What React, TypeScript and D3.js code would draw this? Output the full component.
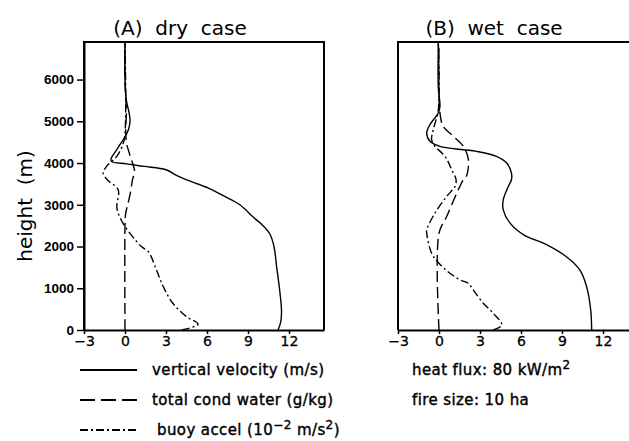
import React, { useEffect, useRef } from 'react';
import * as d3 from 'd3';

// [height (m), value]
const dryVelocity = [
  [0, 11.2], [200, 11.4], [480, 11.45], [1000, 11.3], [1500, 11.1], [2000, 10.9],
  [2300, 10.6], [2500, 10.1], [2700, 9.4], [3000, 8.4], [3200, 7.3], [3400, 6.1],
  [3550, 4.9], [3700, 3.8], [3840, 3.0], [3920, 1.4], [3980, 0.1], [4040, -1.0],
  [4120, -1.0], [4250, -0.75], [4400, -0.45], [4600, -0.05], [4800, 0.25],
  [5000, 0.37], [5200, 0.3], [5500, 0.1], [6000, 0.0], [6900, 0.0]
];
const dryWater = [
  [0, 0], [2500, 0], [2800, 0.05], [3000, 0.2], [3300, 0.4], [3600, 0.55],
  [3800, 0.7], [4000, 0.55], [4200, 0.35], [4500, 0.1], [4800, 0.05], [5200, 0.1],
  [5600, 0.05], [6000, 0], [6900, 0]
];
const dryBuoy = [
  [0, 4.15], [140, 5.35], [320, 4.5], [640, 3.5], [1040, 2.8], [1440, 2.3],
  [1880, 1.7], [2000, 1.2], [2480, 0], [2800, -0.5], [2960, -0.6], [3360, -0.5],
  [3600, -1.3], [3760, -1.6], [3920, -1.35], [4160, -0.6], [4480, -0.12],
  [4720, 0], [5500, 0.05], [6900, 0]
];
const wetVelocity = [
  [0, 11.17], [480, 11.1], [1040, 10.8], [1440, 10.3], [1760, 9.3], [2040, 7.9],
  [2280, 6.2], [2560, 5.2], [2880, 4.7], [3120, 4.7], [3440, 5.07], [3600, 5.3],
  [3760, 5.3], [4000, 4.95], [4160, 4.2], [4280, 2.76], [4320, 1.78], [4400, 0.07],
  [4520, -0.66], [4720, -0.9], [4920, -0.66], [5200, -0.05], [5360, 0.07],
  [5800, -0.05], [6900, -0.05]
];
const wetWater = [
  [0, 0], [2320, 0], [2720, 0.56], [3280, 1.3], [3600, 1.78], [3680, 2.0],
  [4080, 2.15], [4400, 1.78], [4640, 1.05], [4880, 0.3], [5200, 0.07], [5600, 0],
  [6900, 0]
];
const wetBuoy = [
  [0, 3.97], [120, 4.6], [400, 3.97], [640, 3.24], [960, 2.5], [1120, 2.15],
  [1200, 1.54], [1360, 0.8], [1600, 0], [1840, -0.54], [2320, -0.9], [2400, -0.9],
  [2800, -0.3], [3200, 0.56], [3440, 1.17], [3600, 1.25], [3840, 0.93], [4160, 0.44],
  [4400, -0.3], [4560, -0.54], [4800, -0.42], [5280, -0.05], [6900, -0.05]
];

const xTicks = [-3, 0, 3, 6, 9, 12];
const yTicks = [0, 1000, 2000, 3000, 4000, 5000, 6000];
const titles = ['(A)  dry  case', '(B)  wet  case'];
const legendLabels = ['vertical velocity (m/s)', 'total cond water (g/kg)'];
const notes = ['heat flux: 80 kW/m', 'fire size: 10 ha'];

const W = 629;
const H = 441;
const top = 42;
const bottom = 330;
const panelLefts = [84, 398];
const panelWidth = 240;

const styles = [
  { dash: null },
  { dash: '11,5' },
  { dash: '8,3,2,3' }
];

function App() {
  const svgRef = useRef(null);

  useEffect(() => {
    const svg = d3.select(svgRef.current);
    svg.selectAll('*').remove();

    const y = d3.scaleLinear().domain([0, 6900]).range([bottom, top]);
    const panels = [
      [dryVelocity, dryWater, dryBuoy],
      [wetVelocity, wetWater, wetBuoy]
    ];

    panels.forEach((series, i) => {
      const left = panelLefts[i];
      const x = d3.scaleLinear().domain([-3, 14.56]).range([left, left + panelWidth]);
      const g = svg.append('g');

      const line = d3
        .line()
        .x(d => x(d[1]))
        .y(d => y(d[0]))
        .curve(d3.curveCatmullRom.alpha(0.5));

      series.forEach((data, k) => {
        g.append('path')
          .attr('d', line(data))
          .attr('fill', 'none')
          .attr('stroke', '#000')
          .attr('stroke-width', 1.4)
          .attr('stroke-dasharray', styles[k].dash);
      });

      // frame: left, top, right (right of panel B falls outside the picture)
      const right = Math.min(left + panelWidth, W + 5);
      g.append('path')
        .attr('d', `M${left},${bottom}V${top}H${right}` + (left + panelWidth <= W ? `V${bottom}` : ''))
        .attr('fill', 'none')
        .attr('stroke', '#000')
        .attr('stroke-width', 2);

      const xAxis = g
        .append('g')
        .attr('transform', `translate(0, ${bottom})`)
        .call(d3.axisBottom(x).tickValues(xTicks).tickSize(4).tickSizeOuter(0).tickPadding(2));
      xAxis.select('.domain').attr('stroke-width', 2);
      xAxis.selectAll('line').attr('stroke-width', 1.5);
      xAxis
        .selectAll('text')
        .attr('font-family', 'DejaVu Sans')
        .attr('font-size', 14)
        .attr('fill', '#000')
        .attr('stroke', '#000')
        .attr('stroke-width', 0.3);

      if (i === 0) {
        const yAxis = g
          .append('g')
          .attr('transform', `translate(${left}, 0)`)
          .call(
            d3.axisLeft(y).tickValues(yTicks).tickFormat(d3.format('d'))
              .tickSize(7).tickSizeOuter(0).tickPadding(3)
          );
        yAxis.select('.domain').attr('stroke-width', 2);
        yAxis.selectAll('line').attr('stroke-width', 1.5);
        yAxis
          .selectAll('text')
          .attr('font-family', 'Liberation Sans')
          .attr('font-weight', 'bold')
          .attr('font-size', 13.5)
          .attr('fill', '#000');
      }

      g.append('text')
        .attr('x', left + 96)
        .attr('y', 35)
        .attr('text-anchor', 'middle')
        .attr('font-family', 'DejaVu Sans')
        .attr('font-size', 20)
        .style('white-space', 'pre')
        .text(titles[i]);
    });

    svg.append('text')
      .attr('transform', 'translate(32, 206) rotate(-90)')
      .attr('text-anchor', 'middle')
      .attr('font-family', 'DejaVu Sans')
      .attr('font-size', 20)
      .style('white-space', 'pre')
      .text('height  (m)');

    // legend
    const legend = svg.append('g')
      .attr('font-family', 'DejaVu Sans')
      .attr('font-size', 15)
      .attr('letter-spacing', 0.4)
      .attr('stroke', '#000')
      .attr('stroke-width', 0.4);
    const legendDash = [null, '15,6', '8,3,2,3'];
    [370, 400, 430].forEach((ly, k) => {
      legend.append('line')
        .attr('x1', 80).attr('x2', 137).attr('y1', ly).attr('y2', ly)
        .attr('stroke', '#000').attr('stroke-width', 2)
        .attr('stroke-dasharray', legendDash[k]);
    });
    legendLabels.forEach((t, k) => {
      legend.append('text').attr('x', 152).attr('y', 375 + k * 30).text(t);
    });
    const buoy = legend.append('text').attr('x', 157).attr('y', 435);
    buoy.append('tspan').text('buoy accel (10');
    buoy.append('tspan').attr('dy', -6).attr('font-size', 12).text('\u22122');
    buoy.append('tspan').attr('dy', 6).text(' m/s');
    buoy.append('tspan').attr('dy', -6).attr('font-size', 12).text('2');
    buoy.append('tspan').attr('dy', 6).text(')');

    const heat = legend.append('text').attr('x', 412).attr('y', 375);
    heat.append('tspan').text(notes[0]);
    heat.append('tspan').attr('dy', -6).attr('font-size', 12).text('2');
    legend.append('text').attr('x', 412).attr('y', 405).text(notes[1]);
  }, []);

  return (
    <div style={{ position: 'absolute', left: 0, top: 0 }}>
      <svg ref={svgRef} width={W} height={H} style={{ display: 'block', background: '#fff' }} />
    </div>
  );
}

export default App;
